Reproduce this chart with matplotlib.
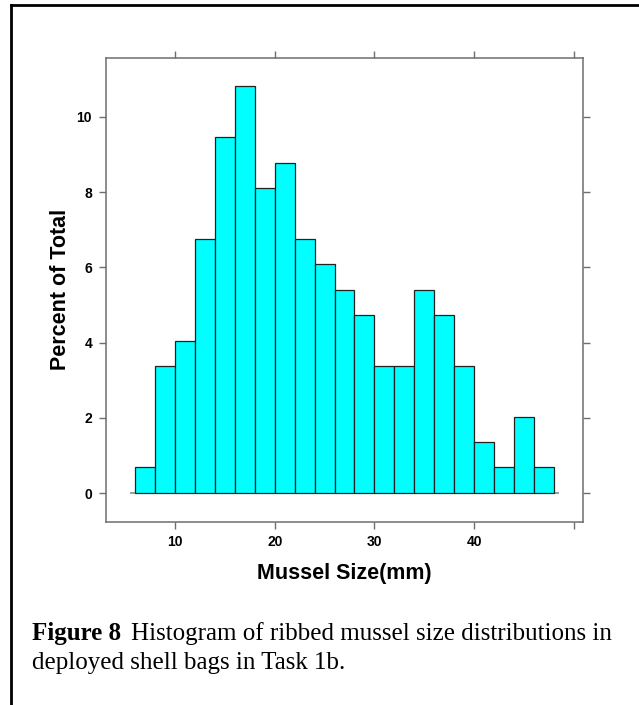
import matplotlib
matplotlib.use("Agg")
import matplotlib.pyplot as plt
from matplotlib.lines import Line2D

# histogram of mussel sizes, 2 mm bins, percent of total (n = 148)
bin_edges = [6, 8, 10, 12, 14, 16, 18, 20, 22, 24, 26, 28, 30, 32, 34, 36, 38, 40, 42, 44, 46, 48]
percent = [0.68, 3.38, 4.05, 6.76, 9.46, 10.81, 8.11, 8.78, 6.76, 6.08, 5.41,
           4.73, 3.38, 3.38, 5.41, 4.73, 3.38, 1.35, 0.68, 2.03, 0.68]
x_ticks = [10, 20, 30, 40, 50]
x_ticklabels = ["10", "20", "30", "40", ""]
y_ticks = [0, 2, 4, 6, 8, 10]

W, H = 639, 705
fig = plt.figure(figsize=(W / 100, H / 100), dpi=100)
fig.patch.set_facecolor("white")

ax = fig.add_axes([106 / W, 1 - 521.5 / H, 477 / W, 463.5 / H])

widths = [bin_edges[i + 1] - bin_edges[i] for i in range(len(percent))]
ax.bar(bin_edges[:-1], percent, width=widths, align="edge",
       color="#00FFFF", edgecolor="#222222", linewidth=0.9, zorder=3)

# lattice style zero reference line
ax.hlines(0, 5.45, 48.5, color="#8c8c8c", linewidth=1.2, zorder=2)

# lattice pads the range by 7 %
xr = bin_edges[-1] - bin_edges[0]
ax.set_xlim(bin_edges[0] - 0.07 * xr, bin_edges[-1] + 0.07 * xr)
yr = max(percent)
ax.set_ylim(-0.07 * yr, yr + 0.07 * yr)

grey = "#6e6e6e"
for s in ax.spines.values():
    s.set_color(grey)
    s.set_linewidth(1.1)

ax.set_xticks(x_ticks)
ax.set_xticklabels(x_ticklabels)
ax.set_yticks(y_ticks)
ax.tick_params(axis="both", which="both", direction="out", length=5, width=1.0,
               color=grey, labelsize=10, pad=5,
               top=True, right=True, labeltop=False, labelright=False)
for lab in ax.get_xticklabels() + ax.get_yticklabels():
    lab.set_fontweight("bold")
    lab.set_family("Liberation Sans")

ax.set_xlabel("Mussel Size(mm)", fontsize=15.5, fontweight="bold",
              family="Liberation Sans", labelpad=10)
ax.set_ylabel("Percent of Total", fontsize=15.5, fontweight="bold",
              family="Liberation Sans", labelpad=4)

# page frame lines (top and left)
fig.add_artist(Line2D([11 / W, 11 / W], [0, 1 - 5 / H], transform=fig.transFigure,
                      color="black", linewidth=2))
fig.add_artist(Line2D([11 / W, 1], [1 - 5 / H, 1 - 5 / H], transform=fig.transFigure,
                      color="black", linewidth=2))

# caption
t1 = fig.text(32 / W, 1 - 640 / H, "Figure 8", fontsize=18, fontweight="bold",
              family="Liberation Serif", va="baseline")
fig.canvas.draw()
bb = t1.get_window_extent()
fig.text((bb.x1 + 10) / W, 1 - 640 / H,
         "Histogram of ribbed mussel size distributions in",
         fontsize=18, family="Liberation Serif", va="baseline")
fig.text(32 / W, 1 - 669 / H, "deployed shell bags in Task 1b.",
         fontsize=18, family="Liberation Serif", va="baseline")

fig.savefig("out.png", dpi=100)
